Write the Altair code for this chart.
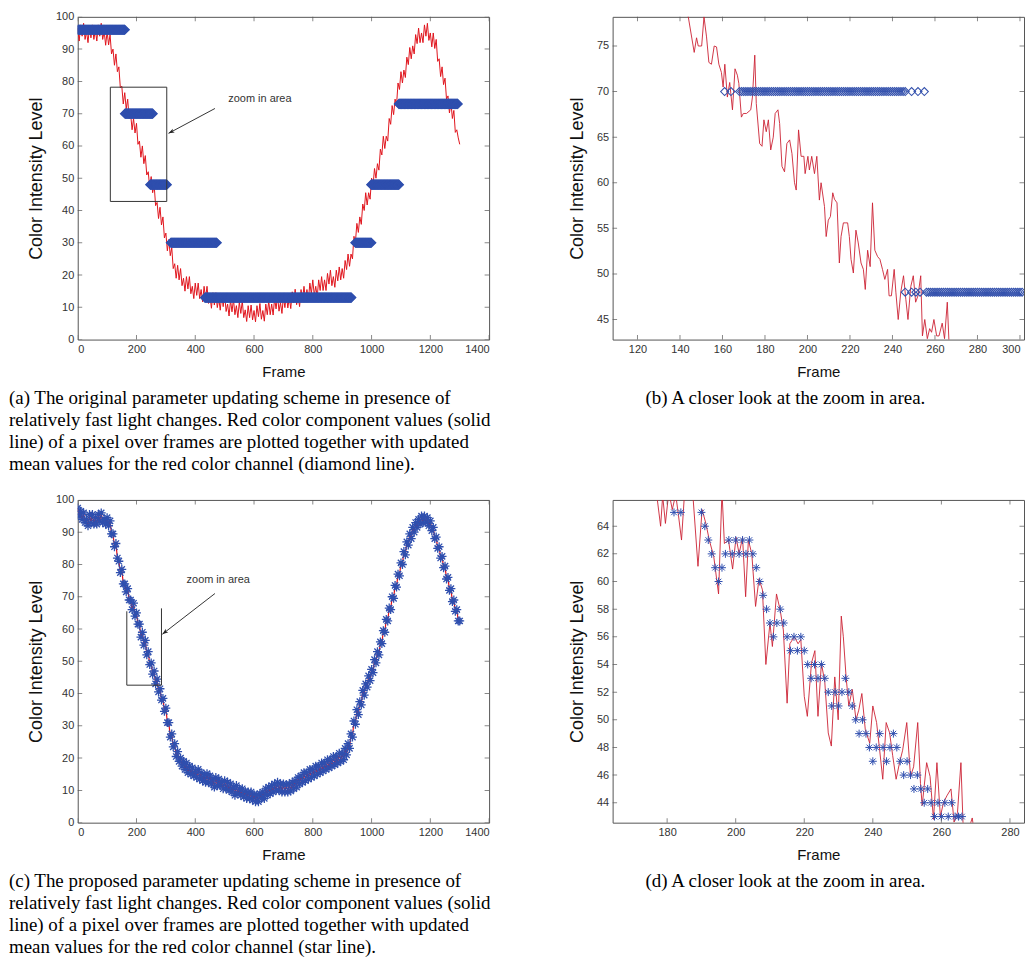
import altair as alt
import pandas as pd

FONT = "Liberation Sans"
SERIF = "Liberation Serif"
RED = "#e0141c"
RED_THIN = "#cc2233"
BLUE = "#2f4fae"
W, H = 413, 324

# ---------------- Panel (a): original scheme (red values, every 5 frames) ----------------
a_frames = list(range(0, 1301, 5))
a_red = [96.5, 92.5, 97.5, 94, 98, 93, 95.5, 92, 97, 93.5, 97.5, 93, 96, 92.5, 97.5, 94, 98, 93, 95.5, 91.2,
         95.5, 91.3, 94.5, 88.5, 90, 85, 88.5, 83, 84.5, 78, 78.5, 73, 76.5, 71.5, 74.5, 68.5, 70, 65, 68.5, 64,
         67, 60.5, 61.5, 56.5, 60, 54.5, 57, 51, 52, 47, 50.5, 45.5, 48, 41.5, 42.5, 37.5, 41, 35.5, 38, 31.5,
         33, 27.5, 31, 26, 28.5, 22, 23.5, 19, 23, 18.5, 22, 16.7, 19, 15, 19.5, 15.7, 19.5, 14.2, 16.5, 12.7,
         17.5, 13.7, 17.5, 12.7, 15.5, 11.7, 16.5, 12.7, 16.5, 11.2, 13.5, 9.7, 14.5, 10.7, 14.5, 9.9, 12.8, 9.1, 14, 10.2,
         14, 8.7, 11, 7.3, 12.2, 8.6, 12.5, 7.7, 10.5, 6.8, 11.7, 8.1, 12, 6.8, 9.2, 5.6, 10.5, 6.8, 10.7, 6.1,
         9, 5.5, 10.5, 7.1, 11.2, 6.3, 9, 5.7, 11, 7.7, 12, 7.7, 11, 7.6, 12.8, 9.5, 13.6, 8.8, 11.5, 8.1,
         13.3, 9.9, 14.1, 9.8, 13, 9.6, 14.8, 11.4, 15.6, 10.8, 13.5, 10.2, 15.5, 12.2, 16.5, 12.2, 15.5, 12.2, 17.5, 14.2,
         18.5, 13.7, 16.5, 13.2, 18.5, 15.2, 19.5, 15.2, 18.5, 15.2, 20.5, 17.2, 21.5, 16.7, 19.5, 16.2, 21.5, 18.2, 22.5, 18.5,
         22, 19, 24.5, 21.7, 26.5, 22.7, 26.5, 25, 32, 30.2, 36, 33.2, 38, 35.7, 42, 40, 45.5, 41.7, 45.5, 43.5,
         50, 47.7, 53, 50, 54.5, 52.5, 59, 57.2, 63, 59.2, 63, 61.5, 68.5, 66.7, 72.5, 69.7, 74.5, 72.7, 79.5, 77.5,
         83, 79.5, 83.5, 81.2, 87.5, 85.2, 90.5, 87, 91, 88.5, 94.5, 91.7, 96.5, 92, 95, 92, 97.5, 94, 98, 92.7,
         95, 90.7, 95, 90.2, 93, 86.2, 87, 81.5, 84.5, 79, 81, 74.5, 75.5, 70.2, 73.5, 68.5, 71, 64.2, 65, 62.5,
         60.5]
# held mean values (diamond line): segment start frame, end frame, level
a_seg_start = [0, 161, 247, 317, 433, 945, 999, 1093]
a_seg_end = [160, 256, 303, 473, 931, 999, 1093, 1293]
a_seg_level = [96, 70, 48, 30, 13, 30, 48, 73]
a_box = [111, 303, 42.8, 78.2]
a_note = ["zoom in area", 620, 74.6]
a_arrow = [467, 71.6, 309, 63.9]

# ---------------- Panel (b): zoom of (a) ----------------
b_frames = [142, 143.9, 146.7, 147.8, 148.6, 150.2, 151.3, 152.5, 153.6, 154.8,
            156.1, 157.2, 158.3, 159.5, 160.3, 161.1, 162.3, 163.4, 164.7, 165.9,
            167.0, 167.7, 168.9, 169.8, 171.3, 173.3, 174.1, 175.2, 175.9, 177.5,
            178.6, 179.5, 180.6, 181.6, 182.7, 183.9, 184.8, 186.1, 186.9, 188.0,
            189.2, 190.3, 191.6, 192.7, 193.9, 194.7, 195.8, 197.0, 198.3, 198.9,
            200.2, 200.9, 202.0, 203.3, 204.4, 205.6, 206.4, 208.0, 208.8, 209.8,
            210.8, 211.9, 212.7, 213.9, 215.0, 215.8, 216.9, 217.8, 218.9, 219.7,
            220.5, 221.6, 222.8, 223.9, 225.2, 226.3, 227.2, 228.3, 229.5, 230.6,
            231.7, 233.0, 234.1, 235.3, 236.4, 237.7, 238.4, 239.5, 240.8, 241.6,
            242.7, 243.9, 245.2, 246.3, 247.3, 248.6, 249.8, 250.9, 252.0, 253.3,
            254.1, 255.2, 256.4, 257.5, 258.4, 259.5, 260.8, 261.9, 263.4, 264.5,
            265.8, 266.6, 268]
b_red = [80, 78.2, 74.3, 75.9, 75, 75, 78.2, 76, 73.2, 73,
         75, 74.9, 73, 72.1, 70.5, 73, 69.4, 71, 68, 72.5,
         71.8, 70.9, 67.2, 67.6, 67.6, 68, 69.4, 74, 68.7, 64.3,
         64, 66.9, 65.6, 66.9, 63.6, 65, 67.6, 68, 66.5, 61.8,
         61.2, 64.3, 64.7, 63.2, 60, 59.2, 65.8, 62.9, 62.9, 61,
         62.9, 61.4, 62.9, 61, 62.9, 58.1, 60, 57.4, 54.1, 55.9,
         56.3, 58.9, 58.2, 57.8, 51.2, 54.1, 55.6, 55.6, 55.6, 54.1,
         51.6, 50.1, 54.8, 53.4, 51.2, 50.5, 48.3, 52.6, 50.8, 57.8,
         52.6, 51.9, 51.6, 50.5, 49.4, 50.5, 47.6, 47.6, 50.5, 48,
         45, 48, 49.8, 47.2, 45, 48.6, 49.8, 46.9, 47.6, 49.8,
         43.2, 45, 42.9, 44, 43.6, 45, 43.2, 43.2, 44.6, 42.9,
         46.9, 42.5, 41]
b_d70_frames = [161, 164] + list(range(168, 247)) + [249, 252, 255]
b_d48_frames = [246, 249, 251, 253] + list(range(256, 302))
b_levels = [70, 48]

# ---------------- Panel (c): proposed scheme (every 5 frames) ----------------
c_frames = list(range(0, 1301, 5))
c_red = [97.5, 95, 96.5, 94, 96, 93, 94, 92, 95.5, 93, 95.5, 92.5, 94.5, 92.5, 95.5, 93.5, 96, 93, 94, 92.5,
         94.5, 92, 93.5, 89.5, 89.5, 85.5, 86.5, 82, 81, 77.5, 78.5, 74, 74, 71.5, 72.5, 69, 69, 66, 68, 64,
         65, 61.5, 61.5, 57.5, 59, 55, 56.5, 52, 53, 49, 49.5, 46, 47, 43, 44.5, 40.5, 41.5, 38, 38.5, 34.5,
         35.5, 31, 31, 26.5, 27.5, 23.5, 24.5, 20.5, 22, 19, 20, 17.5, 19, 16.5, 18.5, 15.5, 17.5, 15, 17, 14.5,
         16, 14, 16.5, 13.5, 15.5, 13, 14.5, 12.5, 15.2, 12.5, 14.5, 12, 13.5, 11, 14, 11.5, 13.5, 11.5, 12.5, 10.5,
         13, 10.5, 12.5, 10, 12, 9.5, 11, 8.5, 11.5, 9, 10.5, 8.5, 10.5, 8, 9.7, 7.5, 9.5, 7.5, 9.5, 7,
         8.7, 6.5, 8.5, 6.5, 9, 7.5, 9.5, 7.5, 10.5, 8.5, 11, 9, 11.5, 9.5, 12, 10, 12.5, 10, 12, 9.5,
         12, 9.5, 11.8, 9.5, 12, 9.8, 12.5, 10.5, 13, 11, 14, 12, 14.5, 12.5, 15.5, 13, 15.5, 13.5, 16.5, 14,
         16.5, 14.5, 17.5, 15, 17.5, 15.5, 18.5, 16, 18.5, 16.5, 19.5, 17, 19.5, 17.5, 20.5, 18, 20.5, 18.5, 21.5, 19,
         21.5, 19.5, 23, 21, 24.5, 23, 27.5, 26.5, 31.5, 30.5, 35, 33.5, 37.5, 36.5, 41, 39.5, 43, 42, 45.5, 44,
         47.5, 46.5, 50.5, 49.5, 53, 52, 56, 55.5, 59.5, 59, 63, 62.5, 66.5, 66, 70, 69.5, 73.5, 73, 77, 76.5,
         80.5, 80, 84, 83, 87, 86, 89.5, 88, 91.5, 90, 93, 91.5, 94, 92.5, 95, 93, 95, 93, 94.5, 92,
         93.5, 90.5, 91.5, 88, 88.5, 85, 85.5, 82, 82.5, 79, 79.5, 75.5, 76, 72, 72.5, 68.5, 69, 65.5, 66, 62.5,
         62.5]
c_box_x = [167, 285]
c_box_y = [42.6, 65.5, 66.4]
c_note = ["zoom in area", 478, 75.3]
c_arrow = [467, 71, 288, 58.4]

# ---------------- Panel (d): zoom of (c) ----------------
d_frames = [176.5, 177.1, 178.1, 178.7, 179.5, 180.5, 181.5, 182.5, 183.3, 184.2,
            185.1, 186.5, 187.5, 189.0, 190.2, 191.3, 192.3, 193.6, 195.0, 196.0,
            196.7, 197.9, 199.1, 200.1, 201.0, 202.0, 202.9, 203.7, 204.7, 205.8,
            206.8, 207.8, 208.8, 210.0, 210.7, 211.9, 213.0, 213.9, 215.0, 215.8,
            217.1, 218.2, 219.0, 220.0, 220.9, 222.1, 223.1, 224.0, 225.0, 226.0,
            227.0, 227.9, 228.9, 229.9, 230.8, 231.4, 232.2, 233.0, 234.0, 235.1,
            235.9, 236.8, 237.8, 239.1, 240.0, 241.1, 242.0, 242.9, 243.9, 244.9,
            245.8, 246.8, 247.8, 248.7, 249.9, 251.0, 251.9, 253.1, 253.9, 254.4,
            255.7, 256.7, 257.7, 258.7, 259.7, 260.6, 261.6, 262.8, 263.7, 264.7,
            265.7, 266.3, 267.2, 269.0, 269.5]
d_red = [67.0, 66.0, 64.0, 66.2, 64.2, 66.5, 65.2, 66.3, 64.8, 63.0,
         66.5, 66.0, 66.3, 61.1, 65.2, 64.2, 63.0, 61.8, 59.1, 66.5,
         62.75, 63.0, 60.9, 63.2, 62.0, 63.2, 58.9, 63.0, 62.0, 58.2,
         60.2, 59.4, 54.0, 57.0, 55.3, 59.1, 57.9, 56.5, 51.2, 55.5,
         56.0, 55.5, 55.8, 51.7, 50.25, 54.1, 55.0, 50.25, 54.1, 52.7,
         49.05, 48.1, 53.1, 50.0, 57.5, 56.0, 53.1, 51.0, 52.2, 50.0,
         50.7, 51.9, 49.3, 48.3, 51.0, 49.8, 47.8, 45.7, 49.8, 49.05,
         47.4, 45.7, 46.9, 47.8, 49.8, 45.9, 46.6, 49.8, 45.4, 43.8,
         46.9, 45.9, 42.8, 46.9, 43.0, 44.0, 44.5, 45.0, 42.6, 43.3,
         46.9, 42.6, 41.5, 42.9, 42.0]
d_star_frames = [182, 184, 190, 191, 192, 193, 194, 195, 196, 197,
                 198, 199, 200, 201, 202, 203, 204, 205, 206, 207,
                 208, 209, 210, 211, 212, 213, 214, 215, 216, 217,
                 218, 219, 220, 221, 222, 223, 224, 225, 226, 227,
                 228, 229, 230, 231, 232, 233, 234, 235, 236, 237,
                 238, 239, 240, 241, 242, 243, 244, 245, 246, 247,
                 248, 249, 250, 251, 252, 253, 254, 255, 256, 257,
                 258, 259, 260, 261, 262, 263, 264, 265, 266]
d_star_values = [65, 65, 65, 64, 63, 62, 61, 60, 61, 62,
                 63, 62, 63, 62, 63, 62, 63, 62, 61, 60,
                 59, 58, 57, 56, 57, 58, 57, 56, 55, 56,
                 55, 56, 55, 54, 53, 54, 53, 54, 53, 52,
                 51, 52, 51, 52, 53, 52, 51, 50, 49, 50,
                 49, 48, 47, 48, 49, 48, 47, 48, 49, 48,
                 47, 46, 47, 46, 45, 46, 45, 44, 45, 44,
                 43, 44, 43, 44, 43, 44, 43, 43, 43]

cap_a = ["(a) The original parameter updating scheme in presence of",
         "relatively fast light changes. Red color component values (solid",
         "line) of a pixel over frames are plotted together with updated",
         "mean values for the red color channel (diamond line)."]
cap_b = "(b) A closer look at the zoom in area."
cap_c = ["(c) The proposed parameter updating scheme in presence of",
         "relatively fast light changes. Red color component values (solid",
         "line) of a pixel over frames are plotted together with updated",
         "mean values for the red color channel (star line)."]
cap_d = "(d) A closer look at the zoom in area."

STAR = "M-1,0L1,0M0,-1L0,1M-0.7,-0.7L0.7,0.7M-0.7,0.7L0.7,-0.7"
HEAD = "M0,0L0.7,2L0,1.5L-0.7,2Z"


def encs(xdom, ydom, xticks, yticks, flush=False):
    xs = alt.Scale(domain=xdom, nice=False, zero=False)
    ys = alt.Scale(domain=ydom, nice=False, zero=False)
    if flush:
        xa = alt.Axis(values=xticks, title="Frame", format="d", labelFlush=10)
    else:
        xa = alt.Axis(values=xticks, title="Frame", format="d")
    ya = alt.Axis(values=yticks, title="Color Intensity Level", format="d")

    def X(field):
        return alt.X(f"{field}:Q", scale=xs, axis=xa)

    def Y(field):
        return alt.Y(f"{field}:Q", scale=ys, axis=ya)
    return X, Y


def inner_ticks(X, Y, xticks, yticks):
    xdf = pd.DataFrame({"frame": xticks})
    ydf = pd.DataFrame({"value": yticks})
    out = []
    for pos in [0, H]:
        out.append(alt.Chart(xdf).mark_tick(orient="vertical", size=9, thickness=1,
                                            color="#555", clip=True)
                   .encode(x=X("frame"), y=alt.value(pos)))
    for pos in [0, W]:
        out.append(alt.Chart(ydf).mark_tick(orient="horizontal", size=9, thickness=1,
                                            color="#555", clip=True)
                   .encode(y=Y("value"), x=alt.value(pos)))
    return out


def caption(text, dx):
    return alt.TitleParams(text=text, orient="bottom", anchor="start", frame="group",
                           dx=dx, offset=10, font=SERIF, fontSize=19,
                           fontWeight="normal", color="#000", lineHeight=22)


def annotations(X, Y, note, arrow, angle):
    n = pd.DataFrame({"frame": [note[1]], "value": [note[2]], "t": [note[0]]})
    ar = pd.DataFrame({"frame": [arrow[0]], "value": [arrow[1]],
                       "f2": [arrow[2]], "v2": [arrow[3]]})
    tip = pd.DataFrame({"frame": [arrow[2]], "value": [arrow[3]]})
    return [
        alt.Chart(n).mark_text(font=FONT, fontSize=11, color="#333")
        .encode(x=X("frame"), y=Y("value"), text="t:N"),
        alt.Chart(ar).mark_rule(color="#333", strokeWidth=1)
        .encode(x=X("frame"), y=Y("value"), x2="f2:Q", y2="v2:Q"),
        alt.Chart(tip).mark_point(shape=HEAD, filled=True, size=36, angle=angle,
                                  color="#222", opacity=1)
        .encode(x=X("frame"), y=Y("value")),
    ]


# ----- (a)
xt_full = [0, 200, 400, 600, 800, 1000, 1200, 1400]
yt_full = [0, 10, 20, 30, 40, 50, 60, 70, 80, 90, 100]
Xa, Ya = encs([0, 1400], [0, 100], xt_full, yt_full)
rows = []
for s, e, lv in zip(a_seg_start, a_seg_end, a_seg_level):
    for f in range(s, e + 1, 2):
        rows.append({"frame": f, "value": lv})
a_diam = pd.DataFrame(rows)
a_line = pd.DataFrame({"frame": a_frames, "value": a_red})
a_boxdf = pd.DataFrame({"frame": [a_box[0]], "f2": [a_box[1]],
                        "value": [a_box[2]], "v2": [a_box[3]]})
panel_a = alt.layer(
    alt.Chart(a_line).mark_line(color=RED, strokeWidth=1, clip=True)
    .encode(x=Xa("frame"), y=Ya("value")),
    alt.Chart(a_diam).mark_point(shape="diamond", filled=False, size=80, color=BLUE,
                                 strokeWidth=1.3, opacity=1, clip=True)
    .encode(x=Xa("frame"), y=Ya("value")),
    alt.Chart(a_boxdf).mark_rect(fillOpacity=0, stroke="#333", strokeWidth=1)
    .encode(x=Xa("frame"), x2="f2:Q", y=Ya("value"), y2="v2:Q"),
    *annotations(Xa, Ya, a_note, a_arrow, 242),
    *inner_ticks(Xa, Ya, xt_full, yt_full),
).properties(width=W, height=H, title=caption(cap_a, -69))

# ----- (b)
xt_b = [120, 140, 160, 180, 200, 220, 240, 260, 280, 300]
yt_b = [45, 50, 55, 60, 65, 70, 75]
Xb, Yb = encs([108.3, 301.9], [42.8, 78.2], xt_b, yt_b, flush=True)
b_line = pd.DataFrame({"frame": b_frames, "value": b_red})
b_diam = pd.DataFrame({"frame": b_d70_frames + b_d48_frames,
                       "value": [b_levels[0]] * len(b_d70_frames)
                       + [b_levels[1]] * len(b_d48_frames)})
panel_b = alt.layer(
    alt.Chart(b_line).mark_line(color=RED_THIN, strokeWidth=0.9, clip=True)
    .encode(x=Xb("frame"), y=Yb("value")),
    alt.Chart(b_diam).mark_point(shape="diamond", filled=False, size=64, color="#3552ad",
                                 strokeWidth=1.1, opacity=1, clip=True)
    .encode(x=Xb("frame"), y=Yb("value")),
    *inner_ticks(Xb, Yb, xt_b, yt_b),
).properties(width=W, height=H, title=caption(cap_b, 33))

# ----- (c)
Xc, Yc = encs([0, 1400], [0, 100], xt_full, yt_full)
c_line = pd.DataFrame({"frame": c_frames, "value": c_red})
c_rules = pd.DataFrame({"frame": [c_box_x[0], c_box_x[0], c_box_x[1]],
                        "f2": [c_box_x[0], c_box_x[1], c_box_x[1]],
                        "value": [c_box_y[0], c_box_y[0], c_box_y[0]],
                        "v2": [c_box_y[1], c_box_y[0], c_box_y[2]]})
panel_c = alt.layer(
    alt.Chart(c_line).mark_line(color=RED, strokeWidth=1.2, clip=True)
    .encode(x=Xc("frame"), y=Yc("value")),
    alt.Chart(c_line).mark_point(shape=STAR, filled=False, size=80, color=BLUE,
                                 strokeWidth=1.3, opacity=1, clip=True)
    .encode(x=Xc("frame"), y=Yc("value")),
    alt.Chart(c_rules).mark_rule(color="#333", strokeWidth=1)
    .encode(x=Xc("frame"), x2="f2:Q", y=Yc("value"), y2="v2:Q"),
    *annotations(Xc, Yc, c_note, c_arrow, 232),
    *inner_ticks(Xc, Yc, xt_full, yt_full),
).properties(width=W, height=H, title=caption(cap_c, -69))

# ----- (d)
xt_d = [180, 200, 220, 240, 260, 280]
yt_d = [44, 46, 48, 50, 52, 54, 56, 58, 60, 62, 64]
Xd, Yd = encs([164.1, 284.1], [42.56, 65.9], xt_d, yt_d)
d_line = pd.DataFrame({"frame": d_frames, "value": d_red})
d_stars = pd.DataFrame({"frame": d_star_frames, "value": d_star_values})
panel_d = alt.layer(
    alt.Chart(d_line).mark_line(color=RED_THIN, strokeWidth=0.9, clip=True)
    .encode(x=Xd("frame"), y=Yd("value")),
    alt.Chart(d_stars).mark_point(shape=STAR, filled=False, size=64, color=BLUE,
                                  strokeWidth=1, opacity=1, clip=True)
    .encode(x=Xd("frame"), y=Yd("value")),
    *inner_ticks(Xd, Yd, xt_d, yt_d),
).properties(width=W, height=H, title=caption(cap_d, 33))

chart = alt.vconcat(
    alt.hconcat(panel_a, panel_b, spacing=76),
    alt.hconcat(panel_c, panel_d, spacing=76),
    spacing=18,
).properties(padding=0).configure_view(
    stroke="#555", strokeWidth=1
).configure_axis(
    labelFont=FONT, labelFontSize=11, labelColor="#333",
    titleFont=FONT, titleColor="#111", titleFontWeight="normal",
    ticks=False, domain=False, grid=False, labelPadding=4,
).configure_axisX(titleFontSize=15, titlePadding=10).configure_axisY(
    titleFontSize=18, titlePadding=10)

chart.save("out.html", embed_options={"renderer": "svg", "actions": False})
